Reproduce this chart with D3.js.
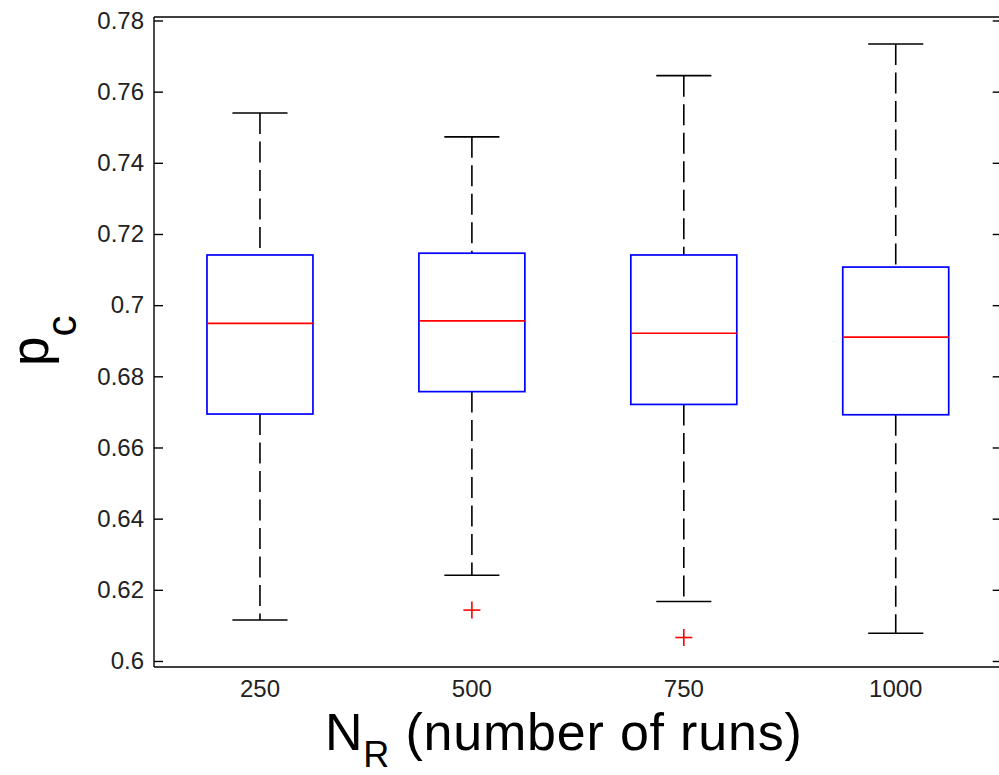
<!DOCTYPE html>
<html><head><meta charset="utf-8">
<script src="https://cdn.jsdelivr.net/npm/d3@7/dist/d3.min.js"></script>
<style>
html,body{margin:0;padding:0;background:#fff;}
svg{display:block;font-family:"Liberation Sans",Arial,sans-serif;}
</style></head><body>
<svg id="chart" width="999" height="775"></svg>
<script>
const categories = ["250", "500", "750", "1000"];
const upperWhisker = [0.7540, 0.7473, 0.7645, 0.7734];
const q3 = [0.7141, 0.7146, 0.7141, 0.7107];
const median = [0.6949, 0.6956, 0.6921, 0.6910];
const q1 = [0.6694, 0.6757, 0.6721, 0.6692];
const lowerWhisker = [0.6115, 0.6241, 0.6167, 0.6078];
const outliers = [[], [0.6143], [0.6066], []];
const yTicks = [0.6, 0.62, 0.64, 0.66, 0.68, 0.7, 0.72, 0.74, 0.76, 0.78];
const yTickLabels = ["0.6", "0.62", "0.64", "0.66", "0.68", "0.7", "0.72", "0.74", "0.76", "0.78"];

const svg = d3.select("#chart");
const L = 154, R = 1001.7, T = 17, B = 667;
const x = d3.scaleBand().domain(categories).range([L, R]).paddingInner(0).paddingOuter(0);
const y = d3.scaleLinear().domain([0.59831, 0.78098]).range([B, T]);
const bw = x.bandwidth();
const cx = c => x(c) + bw / 2;
const boxW = bw * 0.5, capW = bw * 0.26;

const data = categories.map((c, i) => ({c, hi: upperWhisker[i], q3: q3[i], med: median[i], q1: q1[i], lo: lowerWhisker[i], out: outliers[i]}));

// frame
const frame = svg.append("g");
frame.append("line").attr("x1", L).attr("x2", R).attr("y1", T).attr("y2", T);
frame.append("line").attr("x1", L).attr("x2", R).attr("y1", B).attr("y2", B);
frame.append("line").attr("x1", L).attr("x2", L).attr("y1", T).attr("y2", B);
frame.append("line").attr("x1", R).attr("x2", R).attr("y1", T).attr("y2", B);
frame.selectAll("line").attr("stroke", "#000").attr("stroke-width", 1.4);

// left axis (ticks inward)
const leftAxis = d3.axisLeft(y).tickValues(yTicks).tickSizeInner(-9).tickSizeOuter(0)
  .tickFormat((d, i) => yTickLabels[i]).tickPadding(10);
const gl = svg.append("g").attr("transform", `translate(${L},0)`).call(leftAxis);
gl.select(".domain").remove();
gl.selectAll(".tick line").attr("stroke", "#000").attr("stroke-width", 1.4);
gl.selectAll(".tick text").attr("fill", "#222").attr("font-size", 24)
  .attr("font-family", "'Liberation Sans', Arial, sans-serif");

const rightAxis = d3.axisRight(y).tickValues(yTicks).tickSizeInner(-9).tickSizeOuter(0).tickFormat("");
const gr = svg.append("g").attr("transform", `translate(${R},0)`).call(rightAxis);
gr.select(".domain").remove();
gr.selectAll(".tick line").attr("stroke", "#000").attr("stroke-width", 1.4);

// x tick labels (no tick marks)
const bottomAxis = d3.axisBottom(x).tickSize(0).tickPadding(13);
const gb = svg.append("g").attr("transform", `translate(0,${B})`).call(bottomAxis);
gb.select(".domain").remove();
gb.selectAll(".tick text").attr("fill", "#222").attr("font-size", 24)
  .attr("font-family", "'Liberation Sans', Arial, sans-serif");

// boxes
const g = svg.append("g");
const groups = g.selectAll("g.box").data(data).enter().append("g").attr("class", "box");

// upper whisker: from whisker end down to q3
groups.append("line")
  .attr("x1", d => cx(d.c)).attr("x2", d => cx(d.c))
  .attr("y1", d => y(d.hi)).attr("y2", d => y(d.q3))
  .attr("stroke", "#000").attr("stroke-width", 1.6).attr("stroke-dasharray", "21,7.5");
// lower whisker: from q1 down to whisker end
groups.append("line")
  .attr("x1", d => cx(d.c)).attr("x2", d => cx(d.c))
  .attr("y1", d => y(d.q1)).attr("y2", d => y(d.lo))
  .attr("stroke", "#000").attr("stroke-width", 1.6).attr("stroke-dasharray", "21,7.5");
// caps
["hi", "lo"].forEach(k => {
  groups.append("line")
    .attr("x1", d => cx(d.c) - capW / 2).attr("x2", d => cx(d.c) + capW / 2)
    .attr("y1", d => y(d[k])).attr("y2", d => y(d[k]))
    .attr("stroke", "#000").attr("stroke-width", 1.6);
});
// box
groups.append("rect")
  .attr("x", d => cx(d.c) - boxW / 2).attr("width", boxW)
  .attr("y", d => y(d.q3)).attr("height", d => y(d.q1) - y(d.q3))
  .attr("fill", "none").attr("stroke", "#0000ff").attr("stroke-width", 1.7);
// median
groups.append("line")
  .attr("x1", d => cx(d.c) - boxW / 2).attr("x2", d => cx(d.c) + boxW / 2)
  .attr("y1", d => y(d.med)).attr("y2", d => y(d.med))
  .attr("stroke", "#ff0000").attr("stroke-width", 1.7);
// outliers
const pts = [];
data.forEach(d => d.out.forEach(v => pts.push({c: d.c, v})));
const og = g.selectAll("g.out").data(pts).enter().append("g").attr("class", "out")
  .attr("transform", d => `translate(${cx(d.c)},${y(d.v)})`);
og.append("line").attr("x1", -8.5).attr("x2", 8.5).attr("y1", 0).attr("y2", 0);
og.append("line").attr("x1", 0).attr("x2", 0).attr("y1", -8.5).attr("y2", 8.5);
og.selectAll("line").attr("stroke", "#ff0000").attr("stroke-width", 1.6);

// x label
const xl = svg.append("text").attr("x", 325).attr("y", 749.5)
  .attr("font-size", 52).attr("letter-spacing", 0.8).attr("fill", "#000");
xl.append("tspan").text("N");
xl.append("tspan").attr("font-size", 36).attr("dy", 17.5).text("R");
xl.append("tspan").attr("dy", -17.5).text(" (number of runs)");

// y label
const yl = svg.append("text").attr("transform", "translate(48,366) rotate(-90)")
  .attr("font-size", 53).attr("fill", "#000");
yl.append("tspan").text("p");
yl.append("tspan").attr("font-size", 42).attr("dy", 28).text("c");
</script>
</body></html>
